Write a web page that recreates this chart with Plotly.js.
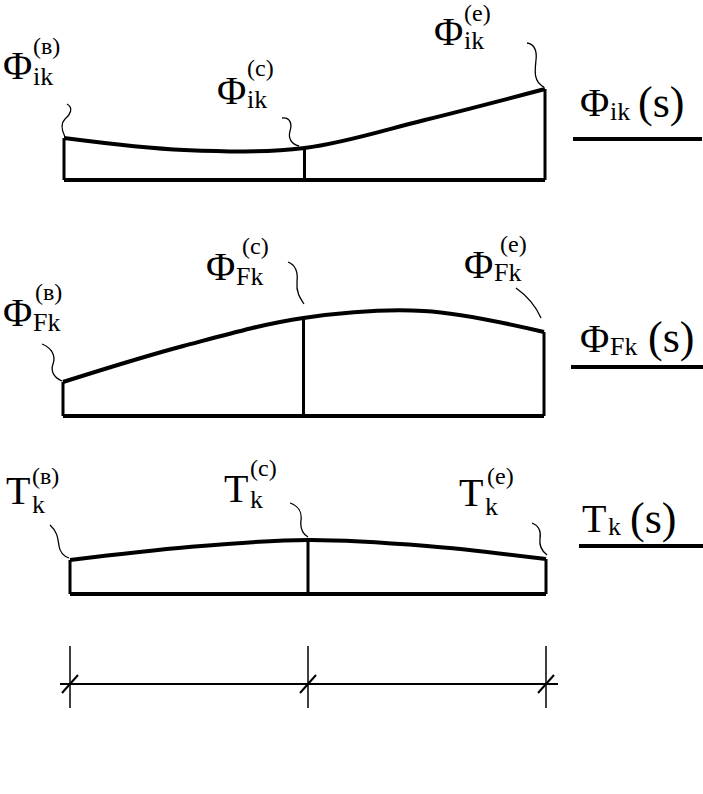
<!DOCTYPE html>
<html lang="ru">
<head>
<meta charset="utf-8">
<script src="https://cdn.plot.ly/plotly-3.0.1.min.js"></script>
</head>
<body style="margin:0">
<div id="fig" style="width:703px;height:794px"></div>
<script>
// ---------- data ----------
const sGrid = [0, 0.25, 0.5, 0.75, 1];          // position along the element, in units of l_k
const phiIk = [42, 30, 32, 60, 91];             // Φ_ik(s)
const phiFk = [34, 70, 98, 105, 84];            // Φ_Fk(s)
const tK    = [34, 47, 54, 48, 35];             // T_k(s)
const nodeS = [0, 0.5, 1];                      // nodes в, c, e
const nodeLabels = ['в', 'c', 'e'];
const nodeSup = ['(в)', '(c)', '(e)'];
const dimS = [0.25, 0.75];
const dimText = '0,5 ℓ<sub>k</sub>';
const caption = 'Рис. 13.2';

// ---------- layout helpers ----------
const W = 703, H = 794;
const FONT = 'Liberation Serif';
const INK = '#000';
const px = x => x / W;
const py = y => 1 - y / H;

const frames = [
  {L: 64, R: 545, B: 180, T: 70},
  {L: 63, R: 544, B: 416, T: 290},
  {L: 70, R: 546, B: 594, T: 515}
];
const pad = 0.02, ypad = 6;

const series = [phiIk, phiFk, tK];
const traces = [];
const layout = {
  width: W, height: H,
  margin: {l: 0, r: 0, t: 0, b: 0},
  showlegend: false,
  font: {family: FONT, color: INK},
  annotations: [], shapes: []
};

series.forEach((vals, i) => {
  const f = frames[i];
  const n = i === 0 ? '' : String(i + 1);
  const span = f.R - f.L;
  layout['xaxis' + n] = {
    domain: [px(f.L - pad * span), px(f.R + pad * span)],
    range: [-pad, 1 + pad], visible: false, fixedrange: true,
    anchor: 'y' + n
  };
  layout['yaxis' + n] = {
    domain: [py(f.B + ypad), py(f.T)],
    range: [-ypad, f.B - f.T], visible: false, fixedrange: true,
    anchor: 'x' + n
  };
  const xa = 'x' + n, ya = 'y' + n;
  traces.push({x: sGrid, y: vals, xaxis: xa, yaxis: ya, mode: 'lines',
    line: {shape: 'spline', smoothing: 1, width: 4, color: INK}, hoverinfo: 'skip'});
  const vx = [], vy = [];
  nodeS.forEach(s => {
    const v = vals[sGrid.indexOf(s)];
    vx.push(s, s, null); vy.push(0, v, null);
  });
  traces.push({x: vx, y: vy, xaxis: xa, yaxis: ya, mode: 'lines',
    line: {width: 3, color: INK}, hoverinfo: 'skip'});
  traces.push({x: [nodeS[0], nodeS[nodeS.length - 1]], y: [0, 0], xaxis: xa, yaxis: ya, mode: 'lines',
    line: {width: 4, color: INK}, hoverinfo: 'skip'});
});

// node letters below the first diagram (text trace on the first axes)
traces.push({x: nodeS, y: nodeS.map(() => -(203 - frames[0].B)), xaxis: 'x', yaxis: 'y',
  mode: 'text', text: nodeLabels, textposition: 'middle center', cliponaxis: false,
  textfont: {family: FONT, size: 36, color: INK}, hoverinfo: 'skip'});
// dimension texts and caption (text trace on the third axes)
const f3 = frames[2];
traces.push({x: dimS, y: dimS.map(() => -(663 - f3.B)), xaxis: 'x3', yaxis: 'y3',
  mode: 'text', text: dimS.map(() => dimText), textposition: 'middle center', cliponaxis: false,
  textfont: {family: FONT, size: 40, color: INK}, hoverinfo: 'skip'});
traces.push({x: [(W / 2 - f3.L) / (f3.R - f3.L)], y: [-(768 - f3.B)], xaxis: 'x3', yaxis: 'y3',
  mode: 'text', text: [caption], textposition: 'middle center', cliponaxis: false,
  textfont: {family: FONT, size: 44, color: INK}, hoverinfo: 'skip'});

function A(text, x, y, size, extra) {
  return Object.assign({
    text: text, x: px(x), y: py(y), xref: 'paper', yref: 'paper',
    xanchor: 'left', yanchor: 'middle', showarrow: false,
    font: {family: FONT, size: size, color: INK}
  }, extra || {});
}
function lab(main, sub, sup, x, y, subdx, subdy, supdx, supdy) {
  layout.annotations.push(A(main, x, y, 40));
  layout.annotations.push(A(sub, x + subdx, y + subdy, 26));
  if (sup) layout.annotations.push(A(sup, x + supdx, y + supdy, 24));
}
lab('Φ', 'ik', nodeSup[0], 1, 66, 30, 10, 30, -20);
lab('Φ', 'ik', nodeSup[1], 215, 90, 30, 10, 30, -22);
lab('Φ', 'ik', nodeSup[2], 432, 31, 30, 10, 30, -18);
lab('Φ', 'ik', null, 578, 103, 30, 8);
layout.annotations.push(A('(s)', 636, 103, 44));
lab('Φ', 'Fk', nodeSup[0], 1, 312, 30, 10, 32, -20);
lab('Φ', 'Fk', nodeSup[1], 204, 266, 30, 10, 36, -20);
lab('Φ', 'Fk', nodeSup[2], 462, 264, 30, 8, 36, -20);
lab('Φ', 'Fk', null, 578, 338, 30, 8);
layout.annotations.push(A('(s)', 646, 337, 44));
lab('T', 'k', nodeSup[0], 4, 490, 26, 14, 26, -14);
lab('T', 'k', nodeSup[1], 222, 488, 26, 12, 26, -20);
lab('T', 'k', nodeSup[2], 457, 492, 26, 14, 28, -16);
lab('T', 'k', null, 580, 518, 26, 8);
layout.annotations.push(A('(s)', 628, 518, 44));

[[573, 702, 139], [571, 703, 367], [579, 703, 546]].forEach(u => {
  layout.shapes.push({type: 'line', xref: 'paper', yref: 'paper',
    x0: px(u[0]), x1: px(u[1]), y0: py(u[2]), y1: py(u[2]), line: {color: INK, width: 4}});
});

function P(cmds) {
  return cmds.map(c => {
    const pts = [];
    for (let k = 1; k < c.length; k += 2) pts.push(px(c[k]).toFixed(5) + ',' + py(c[k + 1]).toFixed(5));
    return c[0] + ' ' + pts.join(' ');
  }).join(' ');
}
const leaders = [
  [['M', 67, 104], ['C', 74, 108, 70, 115, 65, 119], ['C', 60, 124, 62, 131, 65, 137]],
  [['M', 282, 118], ['C', 291, 117, 292, 125, 290, 131], ['C', 288, 138, 291, 144, 299, 146]],
  [['M', 527, 43], ['C', 535, 44, 537, 52, 536, 60], ['C', 535, 70, 533, 82, 544, 87]],
  [['M', 42, 344], ['C', 52, 348, 56, 356, 53, 364], ['C', 50, 372, 55, 378, 62, 381]],
  [['M', 288, 262], ['C', 296, 265, 298, 273, 297, 282], ['C', 296, 292, 300, 298, 304, 304]],
  [['M', 516, 288], ['Q', 533, 300, 541, 318]],
  [['M', 50, 525], ['C', 58, 532, 58, 540, 59, 546], ['C', 60, 552, 63, 556, 69, 558]],
  [['M', 290, 503], ['C', 299, 506, 302, 513, 301, 520], ['C', 300, 528, 303, 534, 308, 537]],
  [['M', 532, 523], ['C', 540, 526, 541, 533, 540, 539], ['C', 539, 546, 542, 551, 547, 555]]
];
leaders.forEach(p => layout.shapes.push({type: 'path', xref: 'paper', yref: 'paper',
  path: P(p), line: {color: INK, width: 1.3}}));

const dimY = 684;
layout.shapes.push({type: 'line', xref: 'paper', yref: 'paper', x0: px(60), x1: px(558),
  y0: py(dimY), y1: py(dimY), line: {color: INK, width: 2}});
nodeS.forEach(s => {
  layout.shapes.push({type: 'line', xref: 'x3', yref: 'paper', x0: s, x1: s,
    y0: py(646), y1: py(708), line: {color: INK, width: 1.5}});
  layout.shapes.push({type: 'line', xref: 'x3', yref: 'paper', xsizemode: 'pixel', xanchor: s,
    x0: -8, x1: 8, y0: py(dimY + 9), y1: py(dimY - 9), line: {color: INK, width: 2}});
});

Plotly.newPlot('fig', traces, layout, {staticPlot: true});
</script>
</body>
</html>
